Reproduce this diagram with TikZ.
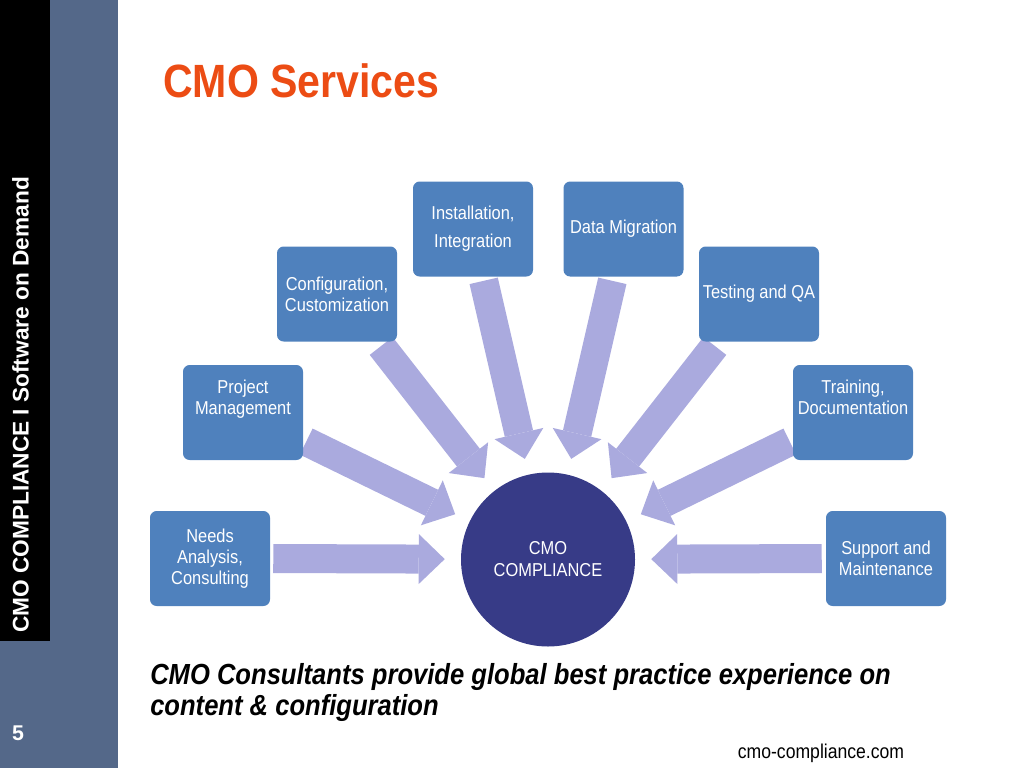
\documentclass[tikz,border=0pt]{standalone}
\usepackage{fontspec}
\setmainfont{Liberation Sans}[FakeStretch=0.88]
\newfontfamily\sidefont{Liberation Sans}
\usepackage{xcolor}
\usetikzlibrary{positioning, arrows.meta, calc, backgrounds}

\definecolor{boxblue}{RGB}{79,129,189}
\definecolor{hubblue}{RGB}{55,59,135}
\definecolor{flowlilac}{RGB}{170,170,222}
\definecolor{titleorange}{RGB}{236,76,20}
\definecolor{sidegrey}{RGB}{84,104,137}

\tikzset{
  service/.style={rectangle, rounded corners=5pt, fill=boxblue, text=white, align=center,
    minimum width=90pt, minimum height=71.25pt, inner sep=2pt, font=\fontsize{14}{15.5}\selectfont},
  hub/.style={circle, fill=hubblue, text=white, align=center, minimum size=130.5pt,
    inner sep=0pt, font=\fontsize{14}{16.5}\selectfont},
  flow/.style={draw=flowlilac, line width=21.75pt,
    -{Triangle[width=37.5pt,length=19.5pt,line width=0pt]}, shorten >=12pt},
}

\begin{document}
\begin{tikzpicture}[x=0.75pt,y=-0.75pt]
\useasboundingbox (0,0) rectangle (1024,768);
%side bars
\fill[sidegrey] (0,0) rectangle (118,768);
\fill[black] (0,0) rectangle (50,641);
\node[rotate=90, inner sep=0pt, text=white, font=\sidefont\bfseries\fontsize{17}{20}\selectfont] (tagline) at (20.5,405) {CMO COMPLIANCE I Software on Demand};
\node[inner sep=0pt, text=white, font=\sidefont\bfseries\fontsize{16}{18}\selectfont] (pagenum) at (18,733) {5};

\node[anchor=base west, inner sep=0pt, text=titleorange, font=\bfseries\fontsize{35}{40}\selectfont] (title) at (163,97) {CMO Services};

\node[hub] (cmo) at (548,559.5) {CMO\\COMPLIANCE};

\node[service] (needs) at (210,558.5) {Needs\\Analysis,\\Consulting};
\node[service] (pm) at (243,412.5) {Project\\Management\\[7.5pt]\mbox{}};
\node[service] (config) at (337,294) {Configuration,\\Customization};
\node[service] (install) at (473,229) {Installation,\\[5.5pt]Integration};
\node[service] (migrate) at (623.5,229) {Data Migration};
\node[service] (testing) at (759,294) {Testing and QA};
\node[service] (training) at (853,412.5) {Training,\\Documentation\\[7.5pt]\mbox{}};
\node[service] (support) at (886,558.5) {Support and\\Maintenance};

\coordinate (pm-out) at ($(cmo)+(-154:269)$);
\coordinate (config-out) at ($(cmo)+(-128:271)$);
\coordinate (install-out) at ($(cmo)+(-103:286)$);
\coordinate (migrate-out) at ($(cmo)+(-77:286)$);
\coordinate (testing-out) at ($(cmo)+(-52:271)$);
\coordinate (training-out) at ($(cmo)+(-26:269)$);

\begin{scope}[on background layer]
\draw	(needs.east) edge[flow, shorten <=2.25pt] (cmo)
		(pm-out) edge[flow] (cmo)
		(config-out) edge[flow] (cmo)
		(install-out) edge[flow] (cmo)
		(migrate-out) edge[flow] (cmo)
		(testing-out) edge[flow] (cmo)
		(training-out) edge[flow] (cmo)
		(support.west) edge[flow, shorten <=3pt] (cmo);
\end{scope}

\node[anchor=north west, inner sep=0pt, align=left, font=\bfseries\itshape\fontsize{21.8}{23.25}\selectfont] (slogan) at (150,663) {CMO Consultants provide global best practice experience on\\content \& configuration};
\node[anchor=base, inner sep=0pt, font=\fontsize{15}{18}\selectfont] (site) at (821,758) {cmo-compliance.com};
\end{tikzpicture}
\end{document}
